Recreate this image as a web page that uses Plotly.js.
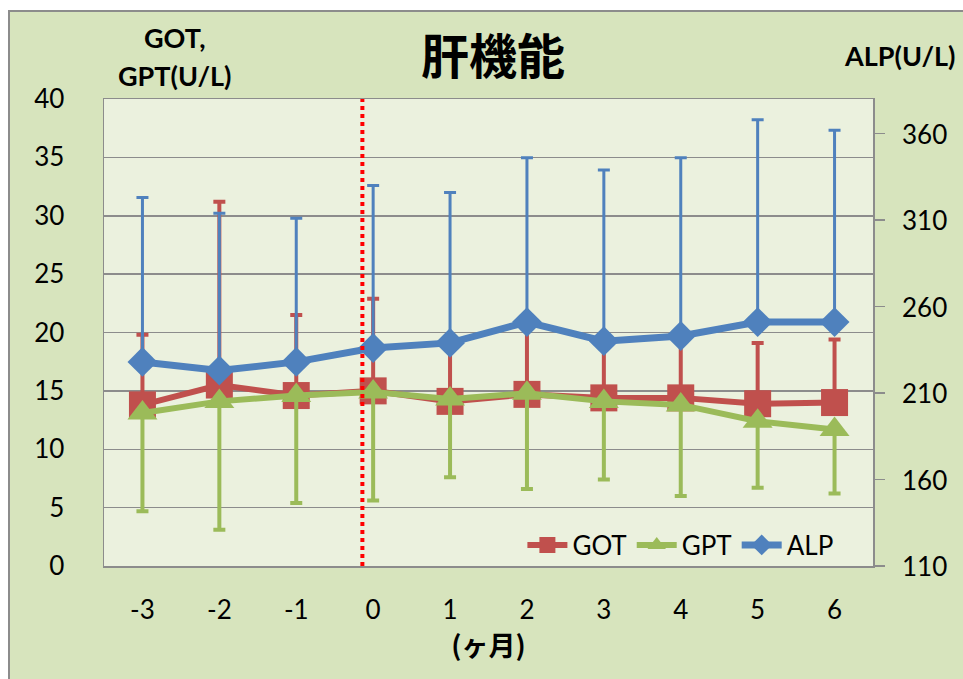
<!DOCTYPE html>
<html>
<head>
<meta charset="utf-8">
<script src="https://cdn.plot.ly/plotly-3.0.1.min.js"></script>
<style>
html,body{margin:0;padding:0;background:#ffffff;width:963px;height:679px;overflow:hidden;}
#chart{position:absolute;left:8px;top:10px;width:953px;height:667px;border-top:2px solid #8c8c8c;border-left:2px solid #8c8c8c;}
</style>
</head>
<body>
<div id="chart"></div>
<script>
const months = [-3, -2, -1, 0, 1, 2, 3, 4, 5, 6];
const monthLabels = ['-3', '-2', '-1', '0', '1', '2', '3', '4', '5', '6'];
const gotMean = [13.8, 15.5, 14.6, 15.0, 14.1, 14.7, 14.4, 14.4, 13.9, 14.0];
const gotSD   = [6.0, 15.7, 6.9, 7.9, 4.7, 5.6, 4.6, 5.1, 5.2, 5.4];
const gptMean = [13.1, 14.1, 14.6, 14.9, 14.3, 14.8, 14.1, 13.8, 12.4, 11.7];
const gptSD   = [8.4, 11.0, 9.2, 9.3, 6.7, 8.2, 6.7, 7.8, 5.7, 5.5];
const alpMean = [228, 223, 228, 236, 239, 251, 240, 243, 251, 251];
const alpSD   = [95, 91, 83, 94, 87, 95, 99, 103, 117, 111];
const leftTicks = [0, 5, 10, 15, 20, 25, 30, 35, 40];
const rightTicks = [110, 160, 210, 260, 310, 360];
const startMonth = -0.14;

const zeros = months.map(() => 0);
const FONT = 'Lato, "Noto Sans", sans-serif';
const CJK = '"Noto Sans CJK JP", "Noto Sans", sans-serif';

const traces = [
  {
    name: 'GOT', x: months, y: gotMean, type: 'scatter', mode: 'lines+markers',
    line: {color: '#c0504d', width: 6},
    marker: {symbol: 'square', size: 27, color: '#c0504d'},
    error_y: {type: 'data', symmetric: false, array: gotSD, arrayminus: zeros, color: '#c0504d', thickness: 4, width: 6}
  },
  {
    name: 'GPT', x: months, y: gptMean, type: 'scatter', mode: 'lines+markers',
    line: {color: '#9bbb59', width: 6},
    marker: {symbol: 'triangle-up', size: 26, color: '#9bbb59'},
    error_y: {type: 'data', symmetric: false, array: zeros, arrayminus: gptSD, color: '#9bbb59', thickness: 4, width: 6}
  },
  {
    name: 'ALP', x: months, y: alpMean, yaxis: 'y2', type: 'scatter', mode: 'lines+markers',
    line: {color: '#4f81bd', width: 7},
    marker: {symbol: 'diamond', size: 23, color: '#4f81bd'},
    error_y: {type: 'data', symmetric: false, array: alpSD, arrayminus: zeros, color: '#4f81bd', thickness: 3, width: 6}
  }
];

const rightLabelAnnots = rightTicks.map(v => ({
  text: String(v), xref: 'paper', yref: 'y2', x: 1, y: v, xanchor: 'left', yanchor: 'middle',
  xshift: 27, showarrow: false, font: {family: FONT, size: 26, color: '#000000'}
}));

const layout = {
  width: 953, height: 667,
  margin: {l: 94, r: 90, t: 87, b: 113},
  paper_bgcolor: '#d7e4bd',
  plot_bgcolor: '#ebf1de',
  font: {family: FONT, size: 26, color: '#000000'},
  showlegend: true,
  title: {text: '<b>肝機能</b>', font: {family: CJK, size: 48, color: '#000000'},
          xref: 'paper', x: 0.506, xanchor: 'center', yref: 'container', y: 0.932, yanchor: 'middle'},
  xaxis: {
    range: [-3.5, 6.5], tickvals: months, ticktext: monthLabels,
    showgrid: false, zeroline: false, showline: true, linecolor: '#8c8c8c', linewidth: 1.5, mirror: true,
    ticks: 'outside', ticklen: 20, tickcolor: 'rgba(0,0,0,0)',
    tickfont: {family: FONT, size: 26},
    title: {text: '<b>(ヶ月)</b>', font: {family: CJK, size: 27}, standoff: 8}
  },
  yaxis: {
    range: [0, 40], tickvals: leftTicks,
    showgrid: true, gridcolor: '#8c8c8c', gridwidth: 1.5, zeroline: false,
    showline: true, linecolor: '#8c8c8c', linewidth: 1.5,
    ticks: 'outside', ticklen: 33, tickcolor: 'rgba(0,0,0,0)',
    tickfont: {family: FONT, size: 26}
  },
  yaxis2: {
    range: [110, 380], tickvals: rightTicks, overlaying: 'y', side: 'right',
    showgrid: false, zeroline: false, showline: true, linecolor: '#8c8c8c', linewidth: 1.5,
    ticks: 'outside', ticklen: 10, tickcolor: '#8c8c8c', tickwidth: 1.5,
    showticklabels: false
  },
  legend: {
    orientation: 'h', xref: 'paper', yref: 'paper', x: 0.955, xanchor: 'right', y: 0.045, yanchor: 'middle',
    bgcolor: 'rgba(0,0,0,0)', font: {family: FONT, size: 26}, itemwidth: 40, traceorder: 'normal'
  },
  shapes: [
    {type: 'line', xref: 'x', yref: 'paper', x0: startMonth, x1: startMonth, y0: 0, y1: 1,
     line: {color: '#ff0000', width: 4, dash: 'dot'}, layer: 'above'}
  ],
  annotations: [
    {text: '<b>GOT,</b>', xref: 'paper', yref: 'paper', x: 0.0923, y: 1.131, xanchor: 'center', yanchor: 'middle',
     showarrow: false, font: {family: FONT, size: 27}},
    {text: '<b>GPT(U/L)</b>', xref: 'paper', yref: 'paper', x: 0.0923, y: 1.051, xanchor: 'center', yanchor: 'middle',
     showarrow: false, font: {family: FONT, size: 27}},
    {text: '<b>ALP(U/L)</b>', xref: 'paper', yref: 'paper', x: 1.035, y: 1.094, xanchor: 'center', yanchor: 'middle',
     showarrow: false, font: {family: FONT, size: 27}}
  ].concat(rightLabelAnnots)
};

Plotly.newPlot('chart', traces, layout, {displayModeBar: false, staticPlot: true});
</script>
</body>
</html>
